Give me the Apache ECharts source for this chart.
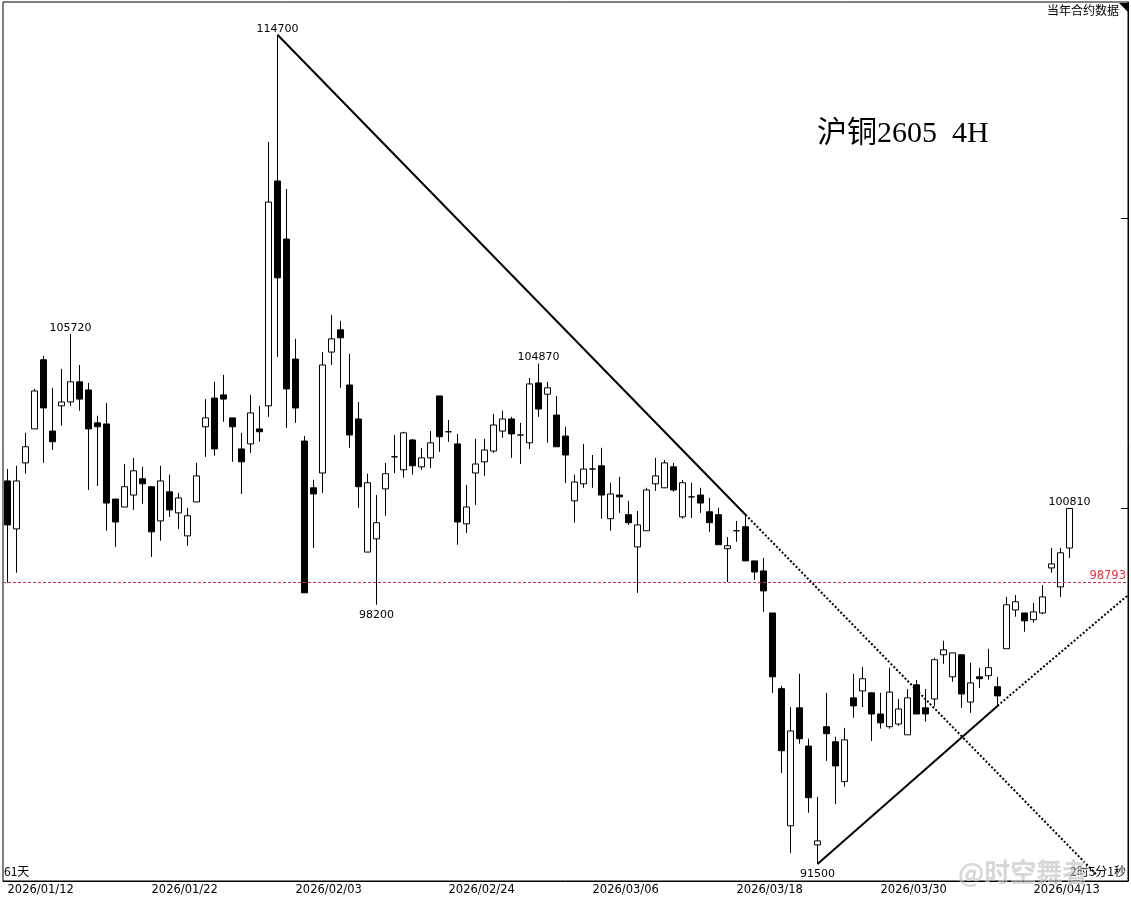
<!DOCTYPE html>
<html>
<head>
<meta charset="utf-8">
<script src="https://cdn.jsdelivr.net/npm/echarts@6/dist/echarts.min.js"></script>
<style>
html,body{margin:0;padding:0;background:#fff;}
#chart{width:1131px;height:900px;}
</style>
</head>
<body>
<div id="chart"></div>
<script>
// ---- data ----
const tradingDays = [
 '2026/01/12','2026/01/13','2026/01/14','2026/01/15','2026/01/16','2026/01/19','2026/01/20','2026/01/21',
 '2026/01/22','2026/01/23','2026/01/26','2026/01/27','2026/01/28','2026/01/29','2026/01/30','2026/02/02',
 '2026/02/03','2026/02/04','2026/02/05','2026/02/06','2026/02/09','2026/02/10','2026/02/11','2026/02/12','2026/02/13',
 '2026/02/24','2026/02/25','2026/02/26','2026/02/27',
 '2026/03/02','2026/03/03','2026/03/04','2026/03/05','2026/03/06','2026/03/09','2026/03/10','2026/03/11','2026/03/12','2026/03/13',
 '2026/03/16','2026/03/17','2026/03/18','2026/03/19','2026/03/20','2026/03/23','2026/03/24','2026/03/25','2026/03/26','2026/03/27',
 '2026/03/30','2026/03/31','2026/04/01','2026/04/02','2026/04/03','2026/04/07','2026/04/08','2026/04/09','2026/04/10',
 '2026/04/13','2026/04/14','2026/04/15'
];
const singleBarDays = ['2026/02/13','2026/04/07','2026/04/15'];
const tickLabels = ['2026/01/12','2026/01/22','2026/02/03','2026/02/24','2026/03/06','2026/03/18','2026/03/30','2026/04/13'];
const emptySlots = 6;

const openP = [101570,100250,102070,103020,104980,102960,103670,103780,104350,104120,
 103190,103160,101070,100850,101180,101630,101410,100470,101270,100690,
 100060,100990,103080,103890,103980,103330,102460,102600,103020,103670,
 110220,108490,105000,102680,101380,101790,105200,105840,104260,103300,
 99620,99980,101350,102240,101880,102710,101960,102210,103950,102940,
 102600,100390,101790,102100,102400,102960,103300,102850,102630,104320,
 104000,103410,102820,101020,101490,101900,101990,100530,101180,100640,
 99760,100200,101490,101380,101960,100580,101130,101180,100720,100640,
 99710,100200,100310,99380,99110,97980,95980,92460,95480,94490,
 91980,94990,94600,93580,95740,95920,95870,95320,94990,95060,
 94780,96080,95480,95710,96870,96290,96870,95630,96290,96320,
 96030,97030,98060,97980,97800,97980,99190,98680,99730];
const closeP = [100360,101570,102520,104090,103610,102660,103780,104350,103860,103020,
 103080,100960,100440,101410,101850,101490,100170,101570,100770,101100,
 100610,101710,103330,102460,103860,103080,102100,103470,102940,109590,
 107350,104150,103610,98520,101210,104830,105580,105610,102850,101410,
 101520,100420,101770,102240,102910,101990,102210,102630,102800,102940,
 100440,100850,102040,102430,103130,103300,102880,102850,104290,103580,
 104180,102520,102290,101540,101900,101900,101180,101210,101130,100420,
 100360,101320,101710,102070,101320,101520,101130,100960,100420,99820,
 99790,100200,99380,99080,98570,96290,94370,94880,94680,93170,
 92080,94810,93980,94650,95530,96240,95320,95090,95890,95450,
 95740,95320,95320,96740,97000,96920,95840,96130,96240,96530,
 95790,98200,98280,97770,98010,98410,99300,99600,100810];
const lowP = [98790,99060,101770,103020,102070,102430,103110,103670,103530,101320,
 101430,100200,99760,100850,100770,100940,99490,99930,100580,100250,
 99790,100990,102240,102270,103220,102100,101210,102350,102660,103360,
 105060,103050,103190,98520,99730,101240,104830,104180,102490,100830,
 99620,98200,100610,101790,101660,101740,101880,101930,102380,102660,
 99820,100140,100910,101710,102350,102770,102210,102040,102460,103360,
 102630,102520,101510,100420,101380,101380,100530,100200,100690,100360,
 98520,100200,101290,101380,101270,100530,100550,100690,100170,99820,
 98810,99900,99380,98870,98010,95870,93800,91780,94550,92790,
 91500,94110,93010,93450,95220,95500,94620,94940,94940,95010,
 94780,95320,95120,95530,96630,96160,95480,95350,96000,96210,
 95530,97030,97880,97480,97720,97950,99060,98410,99460];
const highP = [101900,101990,102910,104150,105090,104180,104720,105720,104830,104320,
 103390,103750,101070,102040,102210,101960,101410,101990,101740,101240,
 100830,102070,103860,104350,104550,103330,102910,103980,103670,111400,
 114700,109980,105580,102820,101600,105200,106270,106100,105150,103780,
 101770,101180,102070,102850,102940,102740,102490,102960,103950,103270,
 102880,101460,102740,102740,103440,103530,103360,103190,104460,104870,
 104350,103950,103080,101740,102600,102290,102490,101520,101680,101020,
 100740,101380,102210,102150,102070,101600,101520,101380,101100,100830,
 100030,100470,100640,99380,99460,97980,96050,95500,96370,94680,
 93190,95870,94730,94960,96370,96550,95890,95870,96530,95710,
 95970,96210,95970,96790,97240,96920,96870,96660,96530,97030,
 96290,98410,98460,97980,98250,98730,99730,99730,100810];

// annotated extremes: [bar index, value, side]
const extremeMarks = [[7,105720,'top'],[30,114700,'top'],[41,98200,'bottom'],[59,104870,'top'],[90,91500,'bottom'],[118,100810,'top']];
const refPrice = 98793;
// trend lines: [bar index, price]
const downTrend = [[30,114700],[82,100640]];
const downTrendExt = [[82,100640],[121,91240]];
const upTrend = [[90,91500],[110,95530]];
const upTrendExt = [[110,95530],[124.5,98560]];
const rightTicks = [109120, 100810];

const yMin = 91079, yMax = 115730;

// ---- build ----
const categories = [];
tradingDays.forEach(d => {
  categories.push(d);
  if (singleBarDays.indexOf(d) < 0) categories.push(d);
});
for (let i = 0; i < emptySlots; i++) categories.push('');
const kData = openP.map((o, i) => [o, closeP[i], lowP[i], highP[i]]);

const labelFont = 'DejaVu Sans';
const cjk = "'Noto Sans CJK SC'";
const chart = echarts.init(document.getElementById('chart'));
chart.setOption({
  animation: false,
  backgroundColor: '#fff',
  title: [
    {text: '沪铜2605  4H', left: 817, top: 119, padding: 0,
     textStyle: {fontFamily: "'Liberation Serif','Noto Sans CJK SC'", fontSize: 30, fontWeight: 'normal', color: '#000'}},
    {text: '当年合约数据', right: 12, top: 4, padding: 0,
     textStyle: {fontFamily: cjk, fontSize: 12, fontWeight: 'normal', color: '#000'}},
    {text: '61天', left: 4, top: 865, padding: 0,
     textStyle: {fontFamily: cjk, fontSize: 12, fontWeight: 'normal', color: '#000'}},
    {text: '2时5分1秒', right: 5, top: 865, padding: 0,
     textStyle: {fontFamily: cjk, fontSize: 12, fontWeight: 'normal', color: '#000'}},
    {text: '@时空舞者', left: 958, top: 859, padding: 0, z: 20, zlevel: 0,
     textStyle: {fontFamily: cjk, fontSize: 26, fontWeight: 'bold', color: 'rgba(175,175,175,0.5)',
                 textBorderColor: 'rgba(255,255,255,0.6)', textBorderWidth: 1}}
  ],
  graphic: [
    {type: 'polygon', shape: {points: [[1119, 3], [1128, 3], [1128, 12]]}, style: {fill: '#000'}}
  ],
  grid: {left: 3, right: 3, top: 2, bottom: 19, show: true, borderColor: '#000', borderWidth: 1, backgroundColor: '#fff'},
  xAxis: {
    type: 'category',
    data: categories,
    boundaryGap: true,
    axisLine: {show: true, lineStyle: {color: '#000', width: 1}},
    axisTick: {show: false},
    splitLine: {show: false},
    axisLabel: {
      show: true,
      align: 'left',
      margin: 3,
      color: '#000',
      fontFamily: labelFont,
      fontSize: 11.5,
      interval: (idx, val) => tickLabels.indexOf(val) >= 0 && (idx === 0 || categories[idx - 1] !== val)
    }
  },
  yAxis: [
    {type: 'log', min: yMin, max: yMax, position: 'left',
     axisLine: {show: false}, axisTick: {show: false}, axisLabel: {show: false}, splitLine: {show: false}},
    {type: 'log', min: yMin, max: yMax, position: 'right',
     axisLine: {show: true, lineStyle: {color: '#000'}},
     axisTick: {show: true, inside: true, length: 7, lineStyle: {color: '#000'}, customValues: rightTicks},
     axisLabel: {show: false}, splitLine: {show: false}}
  ],
  series: [
    {
      type: 'candlestick',
      data: kData,
      barWidth: 7,
      itemStyle: {color: '#fff', color0: '#000', borderColor: '#000', borderColor0: '#000', borderColorDoji: '#000', borderWidth: 1},
      markLine: {
        silent: true, symbol: 'none',
        lineStyle: {color: '#c8324e', type: [3, 2], width: 1},
        label: {show: true, position: 'insideEndTop', distance: [2, 1], color: '#e8333a', fontFamily: labelFont, fontSize: 11.5,
                formatter: () => String(refPrice)},
        data: [{yAxis: refPrice}]
      },
      markPoint: {
        symbol: 'circle', symbolSize: 1, silent: true,
        itemStyle: {color: 'rgba(0,0,0,0)'},
        data: extremeMarks.map(m => ({
          coord: [m[0], m[1]], value: m[1],
          label: {show: true, position: m[2], distance: m[2] === 'top' ? 0 : 4, color: '#000',
                  fontFamily: labelFont, fontSize: 11, formatter: String(m[1])}
        }))
      }
    },
    {type: 'line', data: downTrend, symbol: 'none', silent: true, lineStyle: {color: '#000', width: 2}},
    {type: 'line', data: downTrendExt, symbol: 'none', silent: true, lineStyle: {color: '#000', width: 2, type: [2, 2]}},
    {type: 'line', data: upTrend, symbol: 'none', silent: true, lineStyle: {color: '#000', width: 2}},
    {type: 'line', data: upTrendExt, symbol: 'none', silent: true, lineStyle: {color: '#000', width: 2, type: [2, 2]}}
  ]
});
</script>
</body>
</html>
